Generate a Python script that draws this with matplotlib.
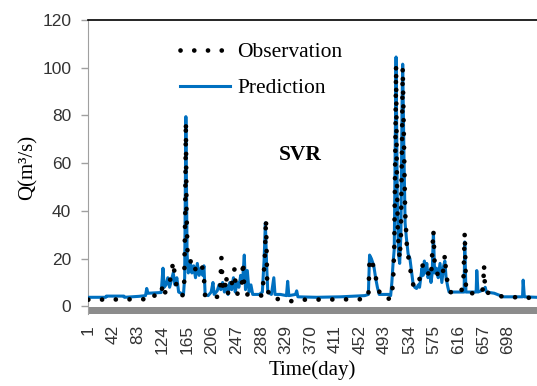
import matplotlib
matplotlib.use('Agg')
import matplotlib.pyplot as plt

# Observation keypoints (day, Q)
obs_day = [1, 95, 97, 122, 124, 126, 132, 136, 139, 142, 145, 148, 152, 157, 160, 162, 163, 164, 166,
           170, 174, 178, 182, 186, 190, 193, 195, 218, 220, 222, 224, 227, 230, 232, 235, 238, 244, 246,
           250, 256, 258, 260, 265, 290, 294, 296, 298, 301, 320, 344, 360, 460, 466, 468, 472, 476, 480,
           483, 486, 504, 507, 509, 511, 512, 513, 515, 518, 520, 522, 523, 525, 527, 530, 534, 538, 541,
           545, 549, 553, 557, 561, 565, 570, 574, 576, 580, 584, 588, 591, 593, 595, 598, 601, 620, 624,
           626, 628, 630, 655, 657, 658, 660, 675, 690, 745]
obs_q = [2.8, 3, 4.5, 4.5, 8.5, 5, 7, 10, 14, 18.8, 12, 8, 6.5, 4.5, 6, 40, 77.4, 40, 20,
         20, 15, 16, 14, 16, 16.7, 12, 4, 4, 8, 20.3, 9, 6, 13, 6, 5, 8, 16, 6,
         5, 9, 18.8, 7, 5, 4.5, 20, 36.6, 10, 4, 2.8, 2, 2.8, 3, 4, 20, 19, 15, 10,
         7.6, 4, 3, 10, 25, 70, 101, 60, 30, 20, 30, 70, 100, 70, 40, 25, 18, 12, 8.5,
         8, 9, 14, 18, 17, 14, 12, 31.8, 18, 14, 12, 12, 16, 21.6, 14, 9, 6, 5.5, 12,
         31, 8, 5.5, 5.5, 10, 17.4, 6, 5, 4, 3.5]

# Prediction keypoints (day, Q)
pred_day = [1, 30, 31, 60, 61, 85, 96, 98, 100, 122, 125, 127, 130, 133, 136, 139, 142, 145, 148, 151,
            155, 159, 161, 163, 165, 167, 170, 173, 176, 179, 182, 185, 188, 191, 193, 195, 200, 205, 208,
            210, 215, 218, 221, 224, 227, 230, 233, 236, 239, 242, 245, 248, 251, 254, 257, 260, 262, 265,
            268, 271, 274, 285, 290, 293, 295, 297, 299, 305, 309, 311, 320, 330, 332, 334, 345, 347, 349,
            380, 420, 460, 466, 468, 471, 475, 478, 481, 484, 500, 503, 505, 507, 509, 511, 512, 514, 516,
            518, 520, 522, 523, 525, 527, 529, 532, 535, 538, 540, 543, 546, 549, 551, 553, 555, 557, 559,
            561, 563, 565, 568, 570, 572, 574, 576, 579, 582, 585, 588, 591, 593, 595, 598, 600, 610, 625,
            626, 628, 640, 645, 646, 648, 658, 660, 662, 675, 690, 700, 722, 723, 725, 745]
pred_q = [3.8, 3.8, 4.3, 4.3, 3.8, 4.2, 4.5, 7.5, 5.5, 5.8, 16, 8, 9, 12, 8, 11, 14, 9, 12, 6,
          5.5, 5, 12, 79.5, 22, 14, 19, 14, 17, 12, 18, 13, 16, 13, 17, 5, 4.5, 6, 10,
          5, 6.5, 9, 7, 10, 6, 9, 5, 10, 7, 12, 6, 10, 8, 13, 10, 21.5, 7, 15,
          6, 9, 5, 5, 6, 20, 35, 18, 6, 5, 12, 5, 5, 4.5, 10.5, 4.5, 5, 6.5, 4,
          3.8, 4, 4.5, 5, 21.5, 20, 17, 12, 8, 5, 5, 4.5, 10, 18, 24, 75, 104.5, 45, 22,
          18, 30, 85, 101.5, 65, 35, 29, 22, 20, 14, 10, 8, 7.5, 9, 8, 12, 16, 13, 19,
          14, 18, 12, 15, 10, 14, 31, 14, 16, 12, 18, 10, 17, 19, 12, 8, 6, 6, 6,
          27, 6, 6, 6, 15, 6, 7, 8, 6, 5.5, 4, 4, 4, 11, 4, 3.8]

tick_days = list(range(1, 700, 41))

fig = plt.figure(figsize=(5.37, 3.86), dpi=100)
ax = fig.add_axes([88 / 537, 72 / 386, 449 / 537, 294 / 386])

ax.plot(pred_day, pred_q, color='#0070C0', lw=2.2, label='Prediction', zorder=3)
ax.plot(obs_day, obs_q, color='black', lw=3.4, linestyle=(0, (0.01, 2.9)),
        dash_capstyle='round', label='Observation', zorder=4)

# grey band under the zero line
ax.axhspan(-3.2, -0.3, color='#8c8c8c', lw=0, zorder=1)

ax.set_xlim(0.5, 746)
ax.set_ylim(-3.2, 120)
ax.set_yticks(range(0, 121, 20))
ax.set_xticks(tick_days)
ax.set_xticklabels([str(d) for d in tick_days], rotation=90)

for lab in ax.get_xticklabels() + ax.get_yticklabels():
    lab.set_fontfamily('Liberation Sans')
    lab.set_fontsize(12.5)
    lab.set_color('#333333')
ax.tick_params(axis='y', length=5, color='#a0a0a0', width=1, pad=7)
ax.tick_params(axis='x', length=0, pad=8)

for s in ['right', 'bottom']:
    ax.spines[s].set_visible(False)
ax.spines['left'].set_color('#a0a0a0')
ax.spines['top'].set_color('black')
ax.spines['top'].set_linewidth(1.2)

ax.set_ylabel('Q(m³/s)', fontfamily='Liberation Serif', fontsize=15)
ax.yaxis.set_label_coords(-0.113, 0.5)
ax.set_xlabel('Time(day)', fontfamily='Liberation Serif', fontsize=15)
ax.xaxis.set_label_coords(0.5, -0.158)

ax.text(0.472, 0.541, 'SVR', transform=ax.transAxes, ha='center', va='center',
        fontfamily='Liberation Serif', fontweight='bold', fontsize=15.5)

h, l = ax.get_legend_handles_labels()
ax.legend(h[::-1], l[::-1], loc='upper left', bbox_to_anchor=(0.205, 0.925), frameon=False,
          prop={'family': 'Liberation Serif', 'size': 15.5}, handlelength=2.3,
          handletextpad=0.35, labelspacing=0.75, borderpad=0, borderaxespad=0)

plt.savefig('out.png', dpi=100)
